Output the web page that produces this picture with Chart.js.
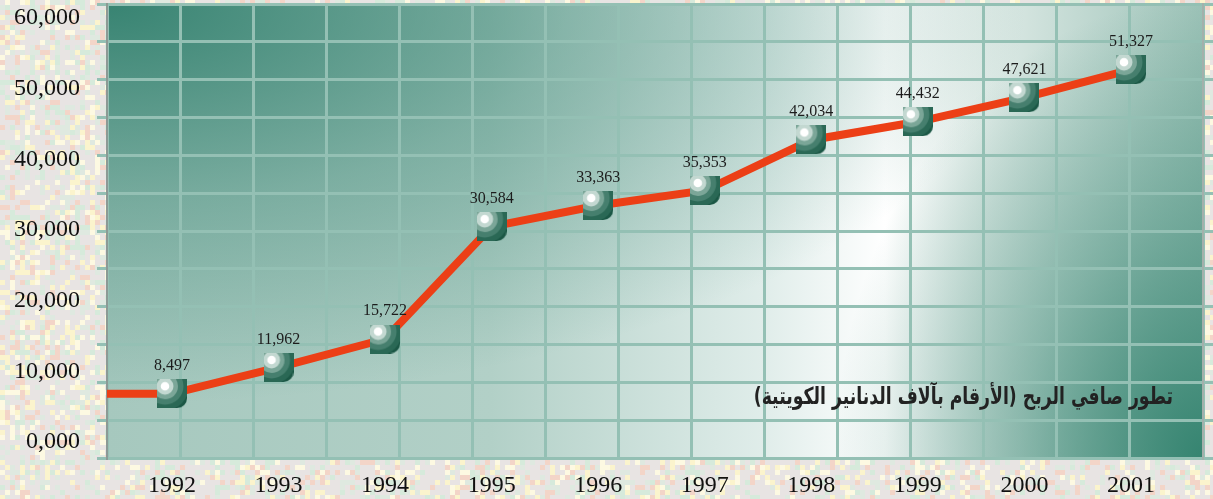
<!DOCTYPE html>
<html>
<head>
<meta charset="utf-8">
<script src="https://cdn.jsdelivr.net/npm/chart.js@4.4.1/dist/chart.umd.min.js"></script>
<style>
  html, body { margin: 0; padding: 0; background: #e8e4e3; }
  #wrap { width: 1213px; height: 499px; }
</style>
</head>
<body>
<div id="wrap"><canvas id="myChart" width="1213" height="499"></canvas></div>
<script>
//data block
const years = [1992, 1993, 1994, 1995, 1996, 1997, 1998, 1999, 2000, 2001];
const profit = [8497, 11962, 15722, 30584, 33363, 35353, 42034, 44432, 47621, 51327];
const yTickValues = [0, 10000, 20000, 30000, 40000, 50000, 60000];
const yTickLabels = ['0,000', '10,000', '20,000', '30,000', '40,000', '50,000', '60,000'];
const titleText = 'تطور صافي الربح (الأرقام بآلاف الدنانير الكويتية)';

const gridColor = '#94c0b4';
const lineColor = '#ec3f16';
const serif = 'Liberation Serif';

//fixed axis sizes, no label overflow padding
function fixSize(w, h) {
  return s => {
    if (w !== null) s.width = w;
    if (h !== null) s.height = h;
    s.paddingTop = 0;
    s.paddingBottom = 0;
    s.paddingLeft = 0;
    s.paddingRight = 0;
  };
}

//marker: square with rounded corner and shaded rings
function makeMarker() {
  const c = document.createElement('canvas');
  c.width = 30;
  c.height = 29;
  const g = c.getContext('2d');
  g.beginPath();
  g.moveTo(0, 0);
  g.lineTo(30, 0);
  g.lineTo(30, 19);
  g.arcTo(30, 29, 20, 29, 10);
  g.lineTo(0, 29);
  g.closePath();
  g.fillStyle = '#1b5745';
  g.fill();
  g.save();
  g.clip();
  const rings = [[24, '#2a6855'], [18.5, '#467f6e'], [13, '#7ba698'], [8.5, '#c3d8d1'], [4.3, '#ffffff']];
  rings.forEach(([r, col]) => {
    g.beginPath();
    g.arc(8, 7, r, 0, Math.PI * 2);
    g.fillStyle = col;
    g.fill();
  });
  g.restore();
  return c;
}
const marker = makeMarker();

//background: mosaic page + shaded plot area
const background = {
  id: 'background',
  beforeDraw(chart) {
    const {ctx, width, height, chartArea: {left, top, right, bottom}} = chart;
    ctx.save();
    ctx.fillStyle = '#e8e4e3';
    ctx.fillRect(0, 0, width, height);
    const cols = ['#fbf4cd', '#d6eadb', '#f3d5c8', '#fdf9e2', '#dfe9e0'];
    for (let a = 0; a * 5 < width; a++) {
      for (let b = 0; b * 5 < height; b++) {
        let h = Math.imul(a + 17, 374761393) ^ Math.imul(b + 31, 668265263);
        h = Math.imul(h ^ (h >>> 13), 1274126177);
        h = (h ^ (h >>> 16)) >>> 0;
        const k = h % 10;
        if (k < cols.length) {
          ctx.fillStyle = cols[k];
          ctx.fillRect(a * 5, b * 5, 5, 5);
        }
      }
    }
    const w = right - left, hgt = bottom - top;
    const lg = ctx.createLinearGradient(left, 0, right, 0);
    lg.addColorStop(0, '#a6c8be');
    lg.addColorStop(0.35, '#b2d0c7');
    lg.addColorStop(0.6, '#e0edea');
    lg.addColorStop(0.71, '#ffffff');
    lg.addColorStop(0.8, '#dfebe7');
    lg.addColorStop(1, '#9cc2b7');
    ctx.fillStyle = lg;
    ctx.fillRect(left, top, w, hgt);

    ctx.beginPath();
    ctx.rect(left, top, w, hgt);
    ctx.clip();

    ctx.save();
    ctx.translate(left, top);
    ctx.scale(2.3, 1);
    const r1 = ctx.createRadialGradient(0, 0, 0, 0, 0, 400);
    r1.addColorStop(0, 'rgba(50,128,110,0.95)');
    r1.addColorStop(0.5, 'rgba(50,128,110,0.4)');
    r1.addColorStop(1, 'rgba(50,128,110,0)');
    ctx.fillStyle = r1;
    ctx.fillRect(0, 0, w / 2.3, hgt);
    ctx.restore();

    ctx.save();
    ctx.translate(right, bottom);
    ctx.scale(0.8, 1);
    const r2 = ctx.createRadialGradient(0, 0, 0, 0, 0, 460);
    r2.addColorStop(0, 'rgba(50,130,110,0.97)');
    r2.addColorStop(0.5, 'rgba(50,130,110,0.45)');
    r2.addColorStop(1, 'rgba(50,130,110,0)');
    ctx.fillStyle = r2;
    ctx.fillRect(-w / 0.8, -hgt, w / 0.8, hgt);
    ctx.restore();

    ctx.restore();
  }
};

//line runs in from the left edge to the first point
const leadIn = {
  id: 'leadIn',
  beforeDatasetsDraw(chart) {
    const {ctx, chartArea: {left}} = chart;
    const p = chart.getDatasetMeta(0).data[0];
    ctx.save();
    ctx.strokeStyle = lineColor;
    ctx.lineWidth = 8;
    ctx.beginPath();
    ctx.moveTo(left, p.y);
    ctx.lineTo(p.x, p.y);
    ctx.stroke();
    ctx.restore();
  }
};

//value labels + arabic caption
const labels = {
  id: 'labels',
  afterDatasetsDraw(chart) {
    const {ctx, chartArea: {right, bottom}} = chart;
    ctx.save();
    ctx.font = `16px "${serif}"`;
    ctx.fillStyle = '#1c1c1c';
    ctx.textAlign = 'center';
    ctx.textBaseline = 'middle';
    chart.getDatasetMeta(0).data.forEach((p, i) => {
      ctx.fillText(profit[i].toLocaleString('en-US'), p.x, p.y - 28);
    });

    ctx.font = 'bold 18px "DejaVu Sans"';
    const m = ctx.measureText(titleText).width;
    const size = 18 * 420 / m;
    ctx.font = `bold ${size.toFixed(1)}px "DejaVu Sans"`;
    ctx.direction = 'rtl';
    ctx.textAlign = 'right';
    ctx.textBaseline = 'alphabetic';
    ctx.fillStyle = '#222';
    ctx.translate(right - 30, bottom - 54);
    ctx.scale(1, 1.35);
    ctx.fillText(titleText, 0, 0);
    ctx.restore();
  }
};

const data = {
  datasets: [{
    data: years.map((x, i) => ({x, y: profit[i]})),
    xAxisID: 'x',
    yAxisID: 'y',
    borderColor: lineColor,
    borderWidth: 8,
    tension: 0,
    pointStyle: marker,
    pointRadius: 15,
    pointHoverRadius: 15
  }]
};

const options = {
  responsive: false,
  animation: false,
  devicePixelRatio: 1,
  layout: {autoPadding: false, padding: {top: 4, right: 0, left: 0, bottom: 0}},
  plugins: {
    legend: {display: false},
    tooltip: {enabled: false}
  },
  scales: {
    x: {
      type: 'linear',
      position: 'bottom',
      min: 1991.39,
      max: 2001.676,
      afterBuildTicks: s => { s.ticks = years.map(v => ({value: v})); },
      ticks: {
        callback: v => String(v),
        font: {family: serif, size: 24},
        color: '#111',
        padding: 13,
        autoSkip: false,
        maxRotation: 0
      },
      grid: {display: false, drawTicks: false},
      border: {display: false},
      afterFit: fixSize(null, 41)
    },
    gx: {
      type: 'linear',
      position: 'top',
      min: 0,
      max: 15,
      ticks: {display: false, stepSize: 1},
      grid: {color: gridColor, lineWidth: 3, drawTicks: false},
      border: {display: false},
      afterFit: fixSize(null, 0)
    },
    y: {
      type: 'linear',
      position: 'left',
      weight: 0,
      min: 0,
      max: 60000,
      ticks: {display: false, stepSize: 5000},
      grid: {color: gridColor, lineWidth: 3, tickLength: 10},
      border: {display: true, color: '#8c9a95', width: 2},
      afterFit: fixSize(27, null)
    },
    yl: {
      type: 'linear',
      position: 'left',
      weight: 1,
      min: -2264,
      max: 61981,
      afterBuildTicks: s => { s.ticks = yTickValues.map(v => ({value: v})); },
      ticks: {
        callback: (v, i) => yTickLabels[i],
        font: {family: serif, size: 24},
        color: '#111',
        padding: 0,
        autoSkip: false
      },
      grid: {display: false, drawTicks: false},
      border: {display: false},
      afterFit: fixSize(80, null)
    },
    yr: {
      type: 'linear',
      position: 'right',
      min: 0,
      max: 60000,
      ticks: {display: false, stepSize: 5000},
      grid: {color: gridColor, lineWidth: 3, tickLength: 10, drawOnChartArea: false},
      border: {display: true, color: '#a3b0ab', width: 2},
      afterFit: fixSize(10, null)
    }
  }
};

const config = {
  type: 'line',
  data,
  options,
  plugins: [background, leadIn, labels]
};

const myChart = new Chart(document.getElementById('myChart'), config);
</script>
</body>
</html>
